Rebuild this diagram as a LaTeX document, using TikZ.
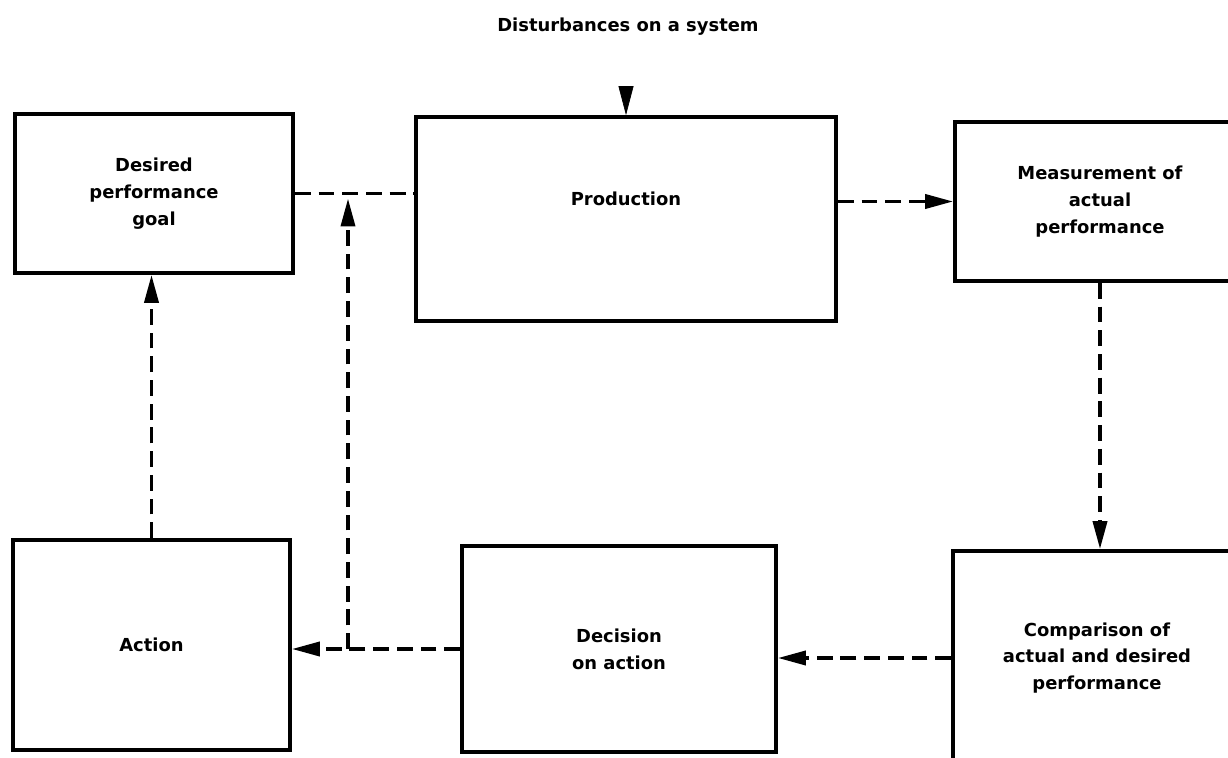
\documentclass[tikz,border=0pt]{standalone}
\usepackage{fontspec}
\setmainfont{DejaVu Sans}
\usetikzlibrary{arrows.meta}

\begin{document}
\begin{tikzpicture}[
    blk/.style={draw,line width=2.1pt,align=center,inner sep=2pt,
      font=\bfseries\fontsize{10.2}{15.3}\selectfont},
    flow/.style={line width=2.1pt,dash pattern=on 9pt off 4.5pt,
      -{Triangle[length=0.56cm,width=0.28cm]}},
    plain/.style={line width=2.1pt,dash pattern=on 9pt off 4.5pt}]
\path[use as bounding box] (0,0) rectangle (24.56,-15.16);
\clip (0,0) rectangle (24.56,-15.16);
\node[font=\bfseries\fontsize{10.2}{12}\selectfont] (dist) at (12.56,-0.54) {Disturbances on a system};
\node[blk,minimum width=5.56cm,minimum height=3.18cm] (goal) at (3.08,-3.87) {Desired\\performance\\goal};
\node[blk,minimum width=8.40cm,minimum height=4.08cm,text depth=0.8cm] (prod) at (12.52,-4.38) {Production};
\node[blk,minimum width=5.8cm,minimum height=3.18cm] (meas) at (22.0,-4.03) {Measurement of\\actual\\performance};
\node[blk,minimum width=5.54cm,minimum height=4.2cm] (act) at (3.03,-12.9) {Action};
\node[blk,minimum width=6.28cm,minimum height=4.12cm] (dec) at (12.38,-12.98) {Decision\\on action};
\node[blk,minimum width=5.76cm,minimum height=4.28cm] (comp) at (21.94,-13.16) {Comparison of\\actual and desired\\performance};
\coordinate (fbx) at (6.96,0);
\draw[-{Triangle[length=0.58cm,width=0.3cm]}] ([yshift=0.58cm]prod.north) -- (prod.north);
\draw[plain] (goal.east) -- (goal.east -| prod.west);
\draw[flow] (meas.west -| prod.east) -- (meas.west);
\draw[flow] (meas.south) -- (meas.south |- comp.north);
\draw[flow] (comp.west) -- (comp.west -| dec.east);
\draw[flow] (dec.west) -- (dec.west -| act.east);
\draw[flow] (act.north) -- (act.north |- goal.south);
\draw[flow,shorten >=0.1cm] (fbx |- dec.west) -- (fbx |- goal.east);
\end{tikzpicture}
\end{document}
